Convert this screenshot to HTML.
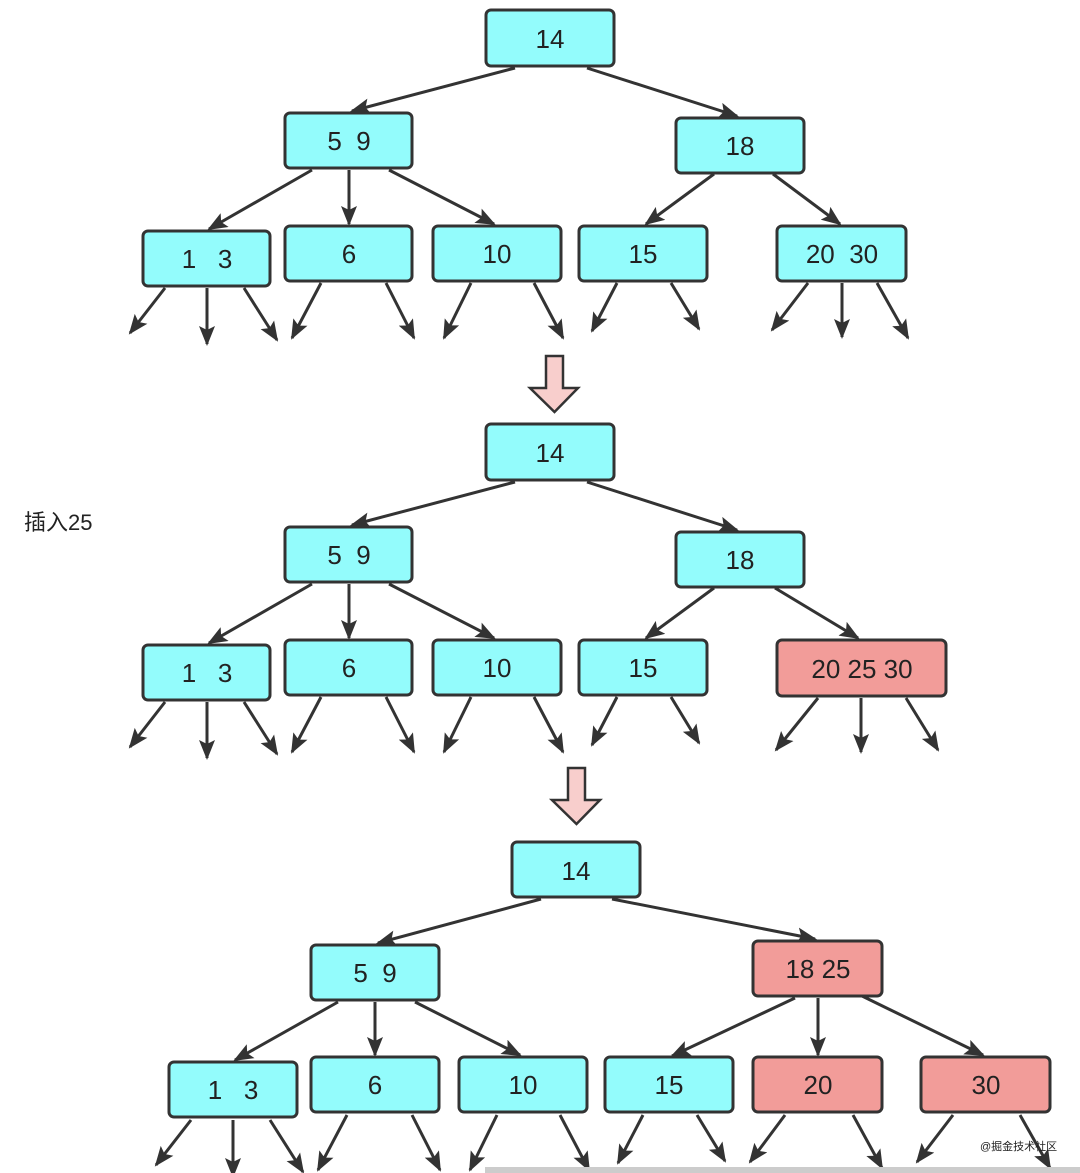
<!DOCTYPE html>
<html><head><meta charset="utf-8"><style>
html,body{margin:0;padding:0;background:#fff;width:1080px;height:1173px;overflow:hidden}
svg{display:block}
text{font-family:"Liberation Sans","Noto Sans CJK SC",sans-serif;fill:#222}
</style></head><body>
<svg width="1080" height="1173" viewBox="0 0 1080 1173" xmlns="http://www.w3.org/2000/svg">
<defs>
<marker id="a" markerUnits="userSpaceOnUse" markerWidth="20" markerHeight="16" refX="18" refY="8" orient="auto">
<path d="M0,0 L20,8 L0,16 L4,8 Z" fill="#333"/>
</marker>
</defs>
<g stroke="#333" stroke-width="3" fill="none" marker-end="url(#a)">
<!-- diagram 1 -->
<line x1="515" y1="68" x2="352" y2="111"/>
<line x1="587" y1="68" x2="737" y2="116"/>
<line x1="312" y1="170" x2="209" y2="229"/>
<line x1="349" y1="170" x2="349" y2="224"/>
<line x1="389" y1="170" x2="494" y2="224"/>
<line x1="714" y1="174" x2="646" y2="224"/>
<line x1="773" y1="174" x2="840" y2="224"/>
<line x1="165" y1="288" x2="130" y2="333"/>
<line x1="207" y1="288" x2="207" y2="344"/>
<line x1="244" y1="288" x2="277" y2="340"/>
<line x1="321" y1="283" x2="292" y2="338"/>
<line x1="386" y1="283" x2="414" y2="338"/>
<line x1="471" y1="283" x2="444" y2="338"/>
<line x1="534" y1="283" x2="563" y2="338"/>
<line x1="617" y1="283" x2="592" y2="331"/>
<line x1="671" y1="283" x2="699" y2="329"/>
<line x1="808" y1="283" x2="772" y2="330"/>
<line x1="842" y1="283" x2="842" y2="337"/>
<line x1="877" y1="283" x2="908" y2="338"/>
<!-- diagram 2 -->
<line x1="515" y1="482" x2="352" y2="525"/>
<line x1="587" y1="482" x2="737" y2="530"/>
<line x1="312" y1="584" x2="209" y2="643"/>
<line x1="349" y1="584" x2="349" y2="638"/>
<line x1="389" y1="584" x2="494" y2="638"/>
<line x1="714" y1="588" x2="646" y2="638"/>
<line x1="775" y1="588" x2="858" y2="638"/>
<line x1="165" y1="702" x2="130" y2="747"/>
<line x1="207" y1="702" x2="207" y2="758"/>
<line x1="244" y1="702" x2="277" y2="754"/>
<line x1="321" y1="697" x2="292" y2="752"/>
<line x1="386" y1="697" x2="414" y2="752"/>
<line x1="471" y1="697" x2="444" y2="752"/>
<line x1="534" y1="697" x2="563" y2="752"/>
<line x1="617" y1="697" x2="592" y2="745"/>
<line x1="671" y1="697" x2="699" y2="743"/>
<line x1="818" y1="698" x2="776" y2="750"/>
<line x1="861" y1="698" x2="861" y2="752"/>
<line x1="906" y1="698" x2="938" y2="750"/>
<!-- diagram 3 -->
<line x1="541" y1="899" x2="378" y2="943"/>
<line x1="612" y1="899" x2="815" y2="939"/>
<line x1="338" y1="1002" x2="235" y2="1060"/>
<line x1="375" y1="1002" x2="375" y2="1055"/>
<line x1="415" y1="1002" x2="520" y2="1055"/>
<line x1="795" y1="998" x2="672" y2="1056"/>
<line x1="818" y1="998" x2="818" y2="1055"/>
<line x1="862" y1="996" x2="983" y2="1055"/>
<line x1="191" y1="1120" x2="156" y2="1165"/>
<line x1="233" y1="1120" x2="233" y2="1176"/>
<line x1="270" y1="1120" x2="303" y2="1172"/>
<line x1="347" y1="1115" x2="318" y2="1170"/>
<line x1="412" y1="1115" x2="440" y2="1170"/>
<line x1="497" y1="1115" x2="470" y2="1170"/>
<line x1="560" y1="1115" x2="589" y2="1170"/>
<line x1="643" y1="1115" x2="618" y2="1163"/>
<line x1="697" y1="1115" x2="725" y2="1161"/>
<line x1="785" y1="1115" x2="750" y2="1162"/>
<line x1="853" y1="1115" x2="882" y2="1168"/>
<line x1="953" y1="1115" x2="917" y2="1162"/>
<line x1="1020" y1="1115" x2="1050" y2="1168"/>
</g>
<g stroke="#333" stroke-width="3">
<g fill="#93FCFC">
<rect x="486" y="10" width="128" height="56" rx="5"/>
<rect x="285" y="113" width="127" height="55" rx="5"/>
<rect x="676" y="118" width="128" height="55" rx="5"/>
<rect x="143" y="231" width="127" height="55" rx="5"/>
<rect x="285" y="226" width="127" height="55" rx="5"/>
<rect x="433" y="226" width="128" height="55" rx="5"/>
<rect x="579" y="226" width="128" height="55" rx="5"/>
<rect x="777" y="226" width="129" height="55" rx="5"/>
<rect x="486" y="424" width="128" height="56" rx="5"/>
<rect x="285" y="527" width="127" height="55" rx="5"/>
<rect x="676" y="532" width="128" height="55" rx="5"/>
<rect x="143" y="645" width="127" height="55" rx="5"/>
<rect x="285" y="640" width="127" height="55" rx="5"/>
<rect x="433" y="640" width="128" height="55" rx="5"/>
<rect x="579" y="640" width="128" height="55" rx="5"/>
<rect x="512" y="842" width="128" height="55" rx="5"/>
<rect x="311" y="945" width="128" height="55" rx="5"/>
<rect x="169" y="1062" width="128" height="55" rx="5"/>
<rect x="311" y="1057" width="128" height="55" rx="5"/>
<rect x="459" y="1057" width="128" height="55" rx="5"/>
<rect x="605" y="1057" width="128" height="55" rx="5"/>
</g>
<g fill="#F29C99">
<rect x="777" y="640" width="169" height="56" rx="5"/>
<rect x="753" y="941" width="129" height="55" rx="5"/>
<rect x="753" y="1057" width="129" height="55" rx="5"/>
<rect x="921" y="1057" width="129" height="55" rx="5"/>
</g>
<g fill="#F8CECC" stroke-width="2.5" stroke-linejoin="miter">
<path d="M546,356 H563 V388 H578 L554.5,412 L530,388 H546 Z"/>
<path d="M568,768 H585 V800 H600 L576.5,824 L552,800 H568 Z"/>
</g>
</g>
<g font-size="26" text-anchor="middle">
<text x="550" y="48">14</text>
<text x="349" y="150">5 &#160;9</text>
<text x="740" y="155">18</text>
<text x="207" y="268">1 &#160;&#160;3</text>
<text x="349" y="263">6</text>
<text x="497" y="263">10</text>
<text x="643" y="263">15</text>
<text x="842" y="263">20 &#160;30</text>
<text x="550" y="462">14</text>
<text x="349" y="564">5 &#160;9</text>
<text x="740" y="569">18</text>
<text x="207" y="682">1 &#160;&#160;3</text>
<text x="349" y="677">6</text>
<text x="497" y="677">10</text>
<text x="643" y="677">15</text>
<text x="862" y="678">20 25 30</text>
<text x="576" y="880">14</text>
<text x="375" y="982">5 &#160;9</text>
<text x="818" y="978">18 25</text>
<text x="233" y="1099">1 &#160;&#160;3</text>
<text x="375" y="1094">6</text>
<text x="523" y="1094">10</text>
<text x="669" y="1094">15</text>
<text x="818" y="1094">20</text>
<text x="986" y="1094">30</text>
</g>
<text x="24" y="530" font-size="22" fill="#333">插入25</text>
<text x="980" y="1150" font-size="11" fill="#444">@掘金技术社区</text>
<rect x="485" y="1167" width="595" height="6" fill="#ccc"/>
</svg>
</body></html>
